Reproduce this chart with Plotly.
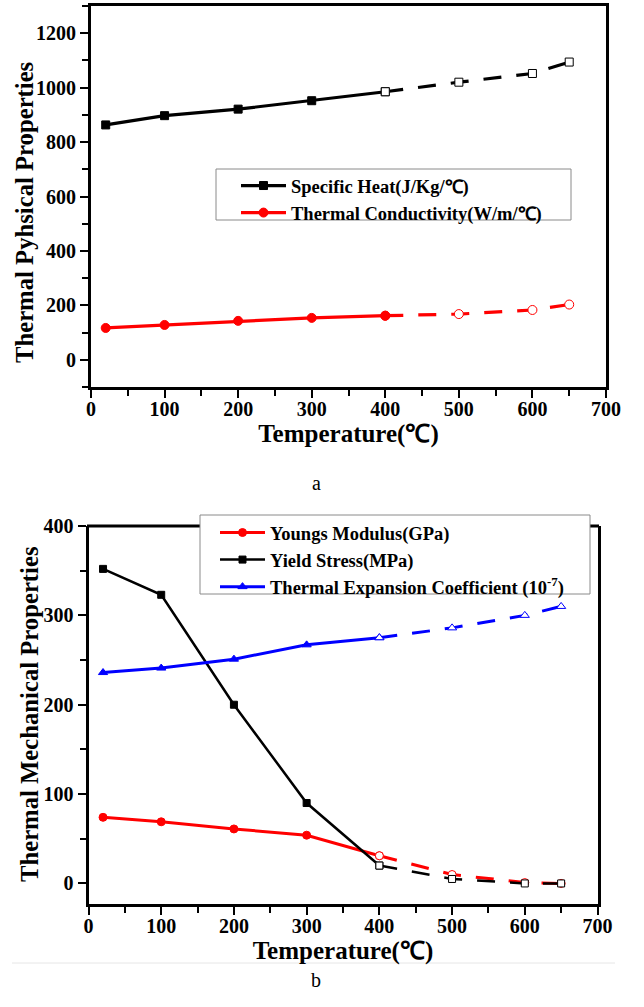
import plotly.graph_objects as go

# ---------------- data ----------------
temps = [20, 100, 200, 300, 400, 500, 600, 650]

# chart a
specific_heat = [863, 897, 921, 952, 985, 1020, 1052, 1094]
thermal_cond = [117, 128, 143, 154, 162, 168, 183, 203]
sh_filled = [True, True, True, True, False, False, False, False]
tc_filled = [True, True, True, True, True, False, False, False]

# chart b
youngs = [74, 69, 61, 54, 31, 10, 1, 0]
yield_stress = [352, 323, 200, 90, 20, 5, 0, 0]
thermal_exp = [236, 241, 251, 267, 275, 286, 300, 310]
b_filled = [True, True, True, True, False, False, False, False]

x_ticks = [0, 100, 200, 300, 400, 500, 600, 700]
a_y_ticks = [0, 200, 400, 600, 800, 1000, 1200]
b_y_ticks = [0, 100, 200, 300, 400]

W, H = 644, 1007
FONT = "Liberation Serif, Times New Roman, serif"
DASH = "18px,15px"


def px_x(v):
    return v / W


def px_y(v):
    return 1 - v / H


fig = go.Figure()


def add_series(name, y, filled, color, symbol, size, lw, xa, ya, legend):
    mcol = [color if f else "white" for f in filled]
    fig.add_trace(go.Scatter(
        x=temps[:5], y=y[:5], mode="lines+markers", name=name,
        line=dict(color=color, width=lw),
        marker=dict(symbol=symbol, size=size, color=mcol[:5],
                    line=dict(color=color, width=1)),
        xaxis=xa, yaxis=ya, legend=legend, showlegend=True))
    fig.add_trace(go.Scatter(
        x=temps[4:], y=y[4:], mode="lines+markers", name=name,
        line=dict(color=color, width=lw, dash=DASH),
        marker=dict(symbol=symbol, size=size, color=mcol[4:],
                    line=dict(color=color, width=1)),
        xaxis=xa, yaxis=ya, legend=legend, showlegend=False))


add_series("<b>Specific Heat(J/Kg/℃)</b>", specific_heat, sh_filled, "black", "square", 8, 3.2, "x", "y", "legend")
add_series("<b>Thermal Conductivity(W/m/℃)</b>", thermal_cond, tc_filled, "red", "circle", 9, 3.2, "x", "y", "legend")

add_series("<b>Youngs Modulus(GPa)</b>", youngs, b_filled, "red", "circle", 8, 3, "x2", "y2", "legend2")
add_series("<b>Yield Stress(MPa)</b>", yield_stress, b_filled, "black", "square", 7, 2.5, "x2", "y2", "legend2")
add_series("<b>Thermal Expansion Coefficient (10<sup>-7</sup>)</b>", thermal_exp, b_filled, "blue", "triangle-up", 8, 3, "x2", "y2", "legend2")

tickfont = dict(family=FONT, size=20, color="black")
titlefont = dict(family=FONT, size=25, color="black")
ytitlefont = dict(family=FONT, size=24.7, color="black")

common_axis = dict(
    showline=True, linecolor="black", linewidth=3,
    ticks="outside", ticklen=8, tickwidth=2, tickcolor="black",
    showgrid=False, zeroline=False, tickfont=tickfont, automargin=False,
)
minor_style = dict(ticks="outside", ticklen=6, tickwidth=2, tickcolor="black")


def bold(vals):
    return ["<b>%d</b>" % v for v in vals]


# chart geometry (pixels)
A_L, A_R, A_T, A_B = 91, 606, 6, 387
B_L, B_R, B_T, B_B = 88.5, 597.5, 526, 904

fig.update_layout(
    template="none",
    width=W, height=H,
    margin=dict(l=0, r=0, t=0, b=0),
    paper_bgcolor="white", plot_bgcolor="white",
    xaxis=dict(domain=[px_x(A_L), px_x(A_R)], range=[0, 700], mirror=True,
               tickvals=x_ticks, ticktext=bold(x_ticks), ticklabelstandoff=-6,
               minor=dict(dtick=50, **minor_style),
               title=dict(text="<b>Temperature(℃)</b>", font=titlefont, standoff=0),
               anchor="y", **common_axis),
    yaxis=dict(domain=[px_y(A_B), px_y(A_T)], range=[-100, 1300], mirror=True,
               tickvals=a_y_ticks, ticktext=bold(a_y_ticks),
               minor=dict(dtick=100, **minor_style),
               anchor="x", **common_axis),
    xaxis2=dict(domain=[px_x(B_L), px_x(B_R)], range=[0, 700], mirror=False,
                tickvals=x_ticks, ticktext=bold(x_ticks), ticklabelstandoff=-6,
                minor=dict(dtick=50, **minor_style),
                title=dict(text="<b>Temperature(℃)</b>", font=titlefont, standoff=0),
                anchor="y2", **common_axis),
    yaxis2=dict(domain=[px_y(B_B), px_y(B_T)], range=[-23, 400], mirror=True,
                tickvals=b_y_ticks, ticktext=bold(b_y_ticks),
                minor=dict(dtick=50, **minor_style),
                anchor="x2", **common_axis),
    legend=dict(x=px_x(236), y=px_y(167), xanchor="left", yanchor="top",
                bgcolor="rgba(0,0,0,0)", borderwidth=0,
                font=dict(family=FONT, size=18.5, color="black"),
                tracegroupgap=0, itemwidth=45),
    legend2=dict(x=px_x(215), y=px_y(514), xanchor="left", yanchor="top",
                 bgcolor="rgba(0,0,0,0)", borderwidth=0,
                 font=dict(family=FONT, size=18.5, color="black"),
                 tracegroupgap=0, itemwidth=45),
    annotations=[
        dict(text="<b>Thermal Pyhsical Properties</b>", textangle=-90,
             x=px_x(24), y=px_y(213), xref="paper", yref="paper",
             xanchor="center", yanchor="middle", showarrow=False, font=ytitlefont),
        dict(text="<b>Thermal Mechanical Properties</b>", textangle=-90,
             x=px_x(29), y=px_y(714), xref="paper", yref="paper",
             xanchor="center", yanchor="middle", showarrow=False, font=ytitlefont),
        dict(text="a", x=px_x(316), y=px_y(483), xref="paper", yref="paper",
             showarrow=False, font=dict(family=FONT, size=20, color="black")),
        dict(text="b", x=px_x(316), y=px_y(993), xref="paper", yref="paper",
             showarrow=False, font=dict(family=FONT, size=20, color="black")),
    ],
    shapes=[
        # legend frame of chart a
        dict(type="rect", xref="paper", yref="paper", layer="above",
             x0=px_x(216), x1=px_x(571), y0=px_y(220), y1=px_y(169),
             fillcolor="white", line=dict(color="#8a8a8a", width=1)),
        # top frame line of chart b (drawn below the legend box)
        dict(type="line", xref="paper", yref="paper", layer="above",
             x0=px_x(B_L - 1.5), x1=px_x(B_R + 1.5), y0=px_y(B_T), y1=px_y(B_T),
             line=dict(color="black", width=3)),
        # legend frame of chart b
        dict(type="rect", xref="paper", yref="paper", layer="above",
             x0=px_x(200), x1=px_x(590), y0=px_y(594), y1=px_y(515),
             fillcolor="white", line=dict(color="#8a8a8a", width=1)),
        # faint separator line
        dict(type="line", xref="paper", yref="paper",
             x0=px_x(12), x1=px_x(615), y0=px_y(963), y1=px_y(963),
             line=dict(color="#e6e6e6", width=1)),
    ],
)

fig.write_html("out.html", config={"displayModeBar": False},
               post_script="document.body.style.margin='0';")
